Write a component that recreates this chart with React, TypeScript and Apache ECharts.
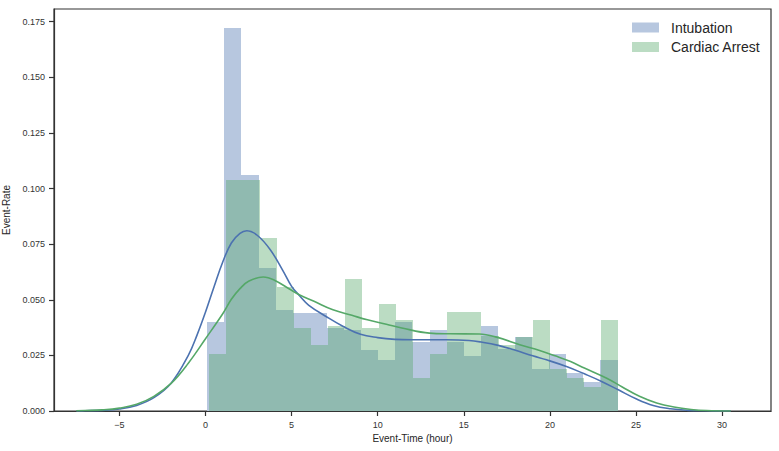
import React, { useEffect, useRef } from "react";
import * as echarts from "echarts";

// Histogram bins (24 bins each), heights
const BIN_COUNT = 24;
const blueRange = [0.1, 23.93];
const greenRange = [0.22, 23.93];
const blueHeights = [
  0.040, 0.172, 0.106, 0.0643, 0.0455, 0.044, 0.044, 0.0375, 0.0365, 0.0275, 0.023, 0.040,
  0.0308, 0.0365, 0.0312, 0.0245, 0.0384, 0.0278, 0.0332, 0.0188, 0.0257, 0.0173, 0.013, 0.023,
];
const greenHeights = [
  0.0257, 0.104, 0.104, 0.0778, 0.0556, 0.0373, 0.0297, 0.038, 0.0593, 0.0373, 0.0481, 0.041,
  0.015, 0.0257, 0.0445, 0.0445, 0.0335, 0.0298, 0.0332, 0.0407, 0.0188, 0.015, 0.011, 0.0407,
];

// KDE curves
const blueKdeX = [-7.5, -7, -6, -5, -4, -3, -2, -1, -0.5, 0, 0.5, 1, 1.5, 2, 2.4, 3, 3.75, 4.5, 5, 5.5, 6, 7, 8, 9, 10, 11, 12, 13, 14, 15.3, 16, 17, 18, 19, 19.8, 21, 22, 23, 24, 25, 26, 27, 28, 29, 30.5];
const blueKdeY = [0, 0.0001, 0.0003, 0.0009, 0.0025, 0.006, 0.0125, 0.025, 0.034, 0.0445, 0.056, 0.067, 0.0755, 0.0798, 0.081, 0.079, 0.0726, 0.063, 0.056, 0.0515, 0.0475, 0.0425, 0.038, 0.0345, 0.033, 0.0322, 0.032, 0.032, 0.032, 0.0317, 0.031, 0.0295, 0.0273, 0.0248, 0.023, 0.0199, 0.0167, 0.0133, 0.0094, 0.0055, 0.0025, 0.001, 0.0003, 0.0001, 0];
const greenKdeX = [-7.5, -7, -6, -5, -4, -3, -2, -1, 0, 1, 1.5, 2, 2.5, 3.35, 4, 4.9, 5.5, 6.3, 7.4, 8.5, 9.4, 10.5, 11.4, 13, 14.2, 15.9, 16.9, 18.25, 19.4, 20.3, 21.2, 22, 23.3, 24.2, 25.2, 26.2, 27.2, 28.2, 29.1, 30.5];
const greenKdeY = [0.0001, 0.0002, 0.0005, 0.0013, 0.003, 0.0066, 0.0124, 0.0215, 0.0325, 0.0437, 0.0502, 0.055, 0.0583, 0.0602, 0.0588, 0.0547, 0.052, 0.0493, 0.0455, 0.043, 0.041, 0.039, 0.0373, 0.035, 0.0347, 0.0346, 0.0332, 0.0298, 0.0272, 0.0248, 0.0222, 0.0193, 0.0147, 0.0108, 0.0066, 0.0036, 0.0018, 0.0007, 0.0002, 0];

const xTicks = [-5, 0, 5, 10, 15, 20, 25, 30];
const yTicks = [0, 0.025, 0.05, 0.075, 0.1, 0.125, 0.15, 0.175];
const seriesNames = ["Intubation", "Cardiac Arrest"];

function binData(range: number[], heights: number[]) {
  const w = (range[1] - range[0]) / BIN_COUNT;
  return heights.map((h, i) => [range[0] + i * w, range[0] + (i + 1) * w, h]);
}

function histSeries(name: string, data: number[][], fill: string) {
  return {
    type: "custom",
    name,
    data,
    encode: { x: [0, 1], y: 2 },
    renderItem: (params: any, api: any) => {
      const p0 = api.coord([api.value(0), api.value(2)]);
      const p1 = api.coord([api.value(1), 0]);
      const x0 = Math.round(p0[0]);
      const x1 = Math.round(p1[0]);
      const y0 = Math.round(p0[1]);
      const y1 = Math.round(p1[1]);
      return {
        type: "rect",
        shape: { x: x0, y: y0, width: x1 - x0, height: y1 - y0 },
        style: { fill },
      };
    },
  };
}

const spine = { color: "#333333", width: 1.2 };

export default function App() {
  const ref = useRef<HTMLDivElement>(null);
  useEffect(() => {
    if (!ref.current) return;
    const chart = echarts.init(ref.current, null, { renderer: "svg" });
    const font = "Liberation Sans, Arial, sans-serif";
    chart.setOption({
      animation: false,
      backgroundColor: "#ffffff",
      grid: {
        left: 54,
        top: 9,
        right: 8,
        bottom: 40,
        containLabel: false,
        outerBoundsMode: "none",
        show: true,
        borderColor: "#333333",
        borderWidth: 1.2,
        backgroundColor: "transparent",
      },
      xAxis: {
        type: "value",
        position: "bottom",
        min: -8.8,
        max: 32.84,
        name: "Event-Time (hour)",
        nameLocation: "middle",
        nameGap: 21,
        nameTextStyle: { fontFamily: font, fontSize: 10, color: "#262626" },
        axisLine: { show: true, onZero: false, lineStyle: spine },
        axisTick: { show: true, length: 5, inside: false, customValues: xTicks, lineStyle: spine },
        axisLabel: {
          customValues: xTicks,
          margin: 9,
          fontFamily: font,
          fontSize: 9,
          color: "#333333",
          formatter: (v: number) => String(v).replace("-", "\u2212"),
        },
        splitLine: { show: false },
      },
      yAxis: {
        type: "value",
        position: "left",
        min: 0,
        max: 0.1807,
        name: "Event-Rate",
        nameLocation: "middle",
        nameGap: 36,
        nameTextStyle: { fontFamily: font, fontSize: 10, color: "#262626" },
        axisLine: { show: true, onZero: false, lineStyle: spine },
        axisTick: { show: true, length: 5, inside: false, customValues: yTicks, lineStyle: spine },
        axisLabel: {
          customValues: yTicks,
          margin: 9,
          fontFamily: font,
          fontSize: 9,
          color: "#333333",
          formatter: (v: number) => v.toFixed(3),
        },
        splitLine: { show: false },
      },
      series: [
        histSeries(seriesNames[0], binData(blueRange, blueHeights), "#B7C7DF"),
        histSeries(seriesNames[1], binData(greenRange, greenHeights), "rgba(85,168,104,0.4)"),
        {
          type: "line",
          name: seriesNames[0] + " KDE",
          data: blueKdeX.map((x, i) => [x, blueKdeY[i]]),
          showSymbol: false,
          smooth: 0.4,
          lineStyle: { color: "#4C72B0", width: 1.6 },
          z: 5,
        },
        {
          type: "line",
          name: seriesNames[1] + " KDE",
          data: greenKdeX.map((x, i) => [x, greenKdeY[i]]),
          showSymbol: false,
          smooth: 0.4,
          lineStyle: { color: "#55A868", width: 1.6 },
          z: 5,
        },
      ],
      graphic: [
        { type: "rect", left: 632, top: 22.5, shape: { width: 27, height: 10 }, style: { fill: "#B7C7DF" } },
        { type: "rect", left: 632, top: 42, shape: { width: 27, height: 10 }, style: { fill: "#BBDCC3" } },
        {
          type: "text",
          x: 671,
          y: 27.5,
          style: { text: seriesNames[0], font: `14px ${font}`, fill: "#262626", textVerticalAlign: "middle" },
        },
        {
          type: "text",
          x: 671,
          y: 47,
          style: { text: seriesNames[1], font: `14px ${font}`, fill: "#262626", textVerticalAlign: "middle" },
        },
      ],
    });
    return () => chart.dispose();
  }, []);
  return (
    <div
      ref={ref}
      style={{ position: "fixed", left: 0, top: 0, width: 779, height: 451 }}
    />
  );
}
